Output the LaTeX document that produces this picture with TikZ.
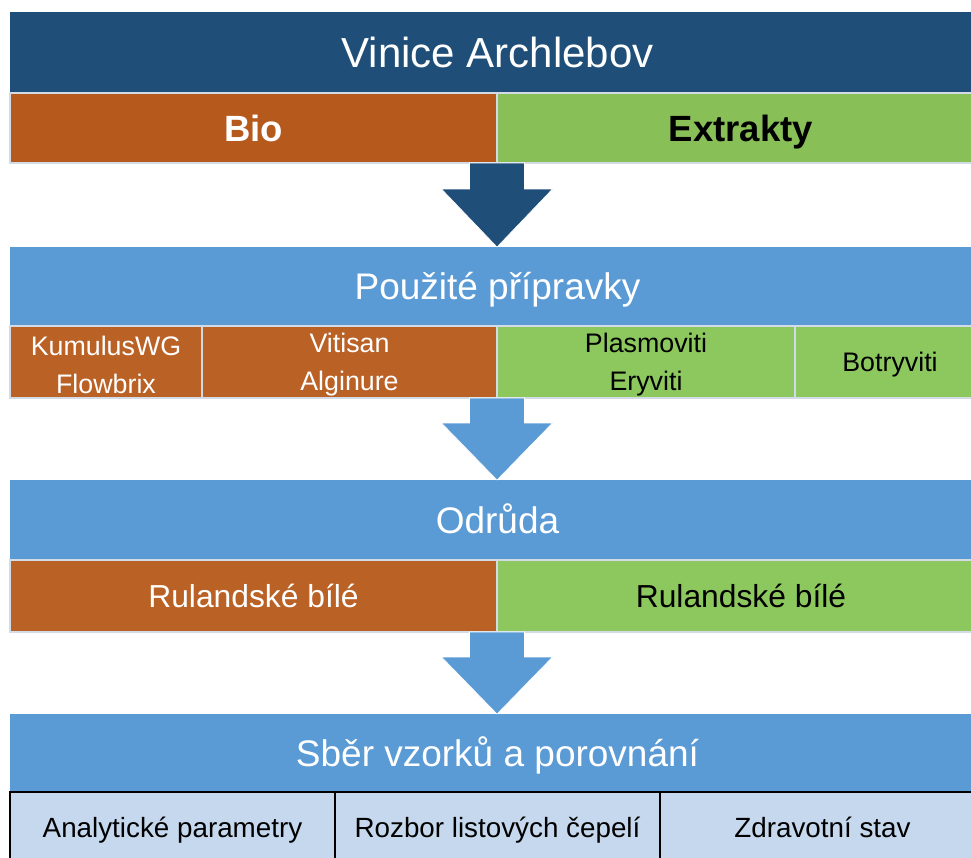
\documentclass[tikz,border=0pt]{standalone}
\usepackage{fontspec}
\setmainfont{Liberation Sans}
\usepackage{tikz}
\usetikzlibrary{positioning,calc}
\definecolor{vineblue}{HTML}{1F4E79}
\definecolor{vinesky}{HTML}{5B9BD5}
\definecolor{vinerust}{HTML}{B5591D}
\definecolor{vinerustlt}{HTML}{BA6125}
\definecolor{vinegreen}{HTML}{88C057}
\definecolor{vinegreenlt}{HTML}{8CC85E}
\definecolor{vinepale}{HTML}{C5D8ED}
\definecolor{vinerule}{HTML}{D2DBE6}
\tikzset{
  bar/.style={
    inner sep=0pt,
    outer sep=0pt,
    minimum width=975pt,
    text=white,
    align=center
  },
  titlebar/.style={
    bar,
    fill=vineblue,
    minimum height=81pt,
    text height=40.6pt,
    text depth=10.5pt,
    font=\fontsize{42}{48}\selectfont
  },
  headbar/.style={
    bar,
    fill=vinesky,
    text height=35.7pt,
    text depth=9.25pt,
    font=\fontsize{37}{44}\selectfont
  },
  cell/.style={
    inner sep=0pt,
    outer sep=0pt,
    draw=vinerule,
    line width=1.5pt,
    align=center
  },
  biocell/.style={
    cell,
    fill=vinerust,
    text=white,
    minimum height=70pt,
    text height=35.3pt,
    text depth=9.1pt,
    font=\bfseries\fontsize{36.5}{42}\selectfont
  },
  extcell/.style={
    cell,
    fill=vinegreen,
    text=black,
    minimum height=70pt,
    text height=35.3pt,
    text depth=9.1pt,
    font=\bfseries\fontsize{36.5}{42}\selectfont
  },
  biosmall/.style={
    cell,
    fill=vinerustlt,
    text=white,
    minimum height=72pt
  },
  extsmall/.style={
    cell,
    fill=vinegreenlt,
    text=black,
    minimum height=72pt
  },
  prepfont/.style={font=\fontsize{26.8}{38}\selectfont},
  prepline/.style={prepfont, text height=25.9pt, text depth=6.7pt},
  sortfont/.style={
    font=\fontsize{31.8}{38}\selectfont,
    text height=30.7pt,
    text depth=7.95pt
  },
  resultcell/.style={
    inner sep=0pt,
    outer sep=0pt,
    draw=black,
    line width=1.5pt,
    fill=vinepale,
    minimum height=72pt,
    text height=26.9pt,
    text depth=6.95pt,
    font=\fontsize{27.8}{32}\selectfont
  },
  blockarrow/.style={
    fill=#1,
    draw=white,
    line width=0.6pt
  }
}

\begin{document}
\begin{tikzpicture}
\useasboundingbox (0,0) rectangle (971pt,-857pt);
\clip (0,0) rectangle (971pt,-857pt);

% top: vineyard and the two variants
\node[titlebar, anchor=north west] (vinice) at (10pt,-12pt) {Vinice Archlebov};
\node[biocell, minimum width=487pt, below right=0pt and 0pt of vinice.south west] (bio) {Bio};
\node[extcell, minimum width=488pt, right=0pt of bio] (extrakty) {Extrakty};

% products used
\node[headbar, minimum height=79pt, below right=84pt and 0pt of bio.south west] (pripravky) {Použité přípravky};
\node[biosmall, prepfont, minimum width=192pt, below right=0pt and 0pt of pripravky.south west] (kumulus) {\rule{0pt}{24.8pt}KumulusWG\\Flowbrix};
\node[biosmall, prepfont, minimum width=295pt, right=0pt of kumulus] (vitisan) {\rule{0pt}{24.8pt}Vitisan\\Alginure};
\node[extsmall, prepfont, minimum width=298pt, right=0pt of vitisan] (plasmo) {\rule{0pt}{24.8pt}Plasmoviti\\Eryviti};
\node[extsmall, prepline, minimum width=190pt, right=0pt of plasmo] (botry) {Botryviti};

% variety
\node[headbar, minimum height=80pt, below right=82pt and 0pt of kumulus.south west] (odruda) {Odrůda};
\node[biosmall, sortfont, minimum width=487pt, below right=0pt and 0pt of odruda.south west] (rulbio) {Rulandské bílé};
\node[extsmall, sortfont, minimum width=488pt, right=0pt of rulbio] (rulext) {Rulandské bílé};

% sampling and comparison
\node[headbar, minimum height=78pt, below right=82pt and 0pt of rulbio.south west] (sber) {Sběr vzorků a porovnání};
\node[resultcell, minimum width=325pt, below right=0pt and 0pt of sber.south west] (analyt) {Analytické parametry};
\node[resultcell, minimum width=325pt, right=0pt of analyt] (listy) {Rozbor listových čepelí};
\node[resultcell, minimum width=325pt, right=0pt of listy] (zdravi) {Zdravotní stav};

% block arrows between the levels
\draw[blockarrow=vineblue] ($(bio.south east)+(-27.5pt,0)$) -- ($(bio.south east)+(27.5pt,0)$)
  -- ++(0,-26pt) -- ++(28pt,0) -- (bio.south east |- pripravky.north)
  -- ($(bio.south east)+(-55.5pt,-26pt)$) -- ++(28pt,0) -- cycle;
\draw[blockarrow=vinesky] ($(vitisan.south east)+(-27.5pt,0)$) -- ($(vitisan.south east)+(27.5pt,0)$)
  -- ++(0,-25pt) -- ++(28pt,0) -- (vitisan.south east |- odruda.north)
  -- ($(vitisan.south east)+(-55.5pt,-25pt)$) -- ++(28pt,0) -- cycle;
\draw[blockarrow=vinesky] ($(rulbio.south east)+(-27.5pt,0)$) -- ($(rulbio.south east)+(27.5pt,0)$)
  -- ++(0,-25pt) -- ++(28pt,0) -- (rulbio.south east |- sber.north)
  -- ($(rulbio.south east)+(-55.5pt,-25pt)$) -- ++(28pt,0) -- cycle;
\end{tikzpicture}
\end{document}
